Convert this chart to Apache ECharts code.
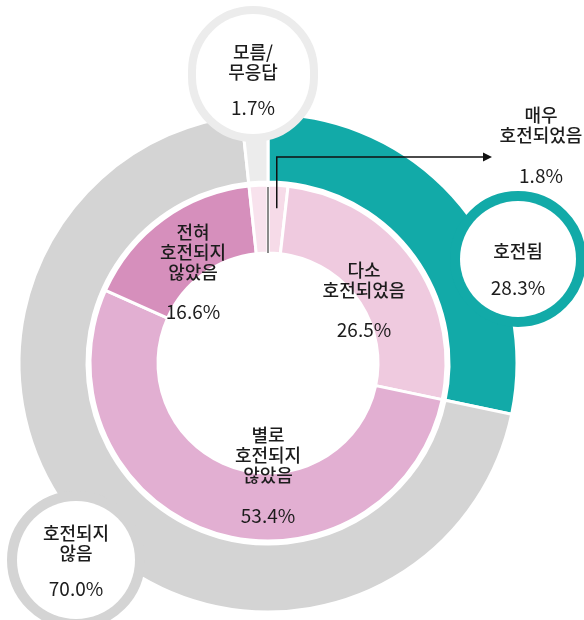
<!DOCTYPE html>
<html>
<head>
<meta charset="utf-8">
<script src="https://cdn.jsdelivr.net/npm/echarts@6/dist/echarts.min.js"></script>
<style>
html,body{margin:0;padding:0;background:#fff;}
#chart{width:584px;height:620px;}
</style>
</head>
<body>
<div id="chart"></div>
<script>
// ---- data ----
const innerNames = ['매우 호전되었음', '다소 호전되었음', '별로 호전되지 않았음', '전혀 호전되지 않았음', '모름/무응답'];
const innerValues = [1.8, 26.5, 53.4, 16.6, 1.7];
const innerLabelLines = [['매우', '호전되었음'], ['다소', '호전되었음'], ['별로', '호전되지', '않았음'], ['전혀', '호전되지', '않았음'], null];

const outerNames = ['호전됨', '호전되지 않음', '모름/무응답'];
const outerValues = [28.3, 70.0, 1.7];
const outerLabelLines = [['호전됨'], ['호전되지', '않음'], ['모름/', '무응답']];

// ---- styles / layout ----
const CX = 268, CY = 363;
const innerColors = ['#f6dbe8', '#efcadf', '#e2afd2', '#d68fbc', '#f8e2ed'];
const outerColors = ['#12aaa8', '#d4d4d4', '#ececec'];
const FONT = '"Noto Sans CJK KR", "Noto Sans", sans-serif';
const TXT = '#1c1c1c';
const NAME_LH = 20;
const NAME_FS = 18, PCT_FS = 19;

// inner label placement: [x, first line center y, gap to percent]
const innerLabelPos = [[541, 115, 41], [364, 270, 40], [268, 435, 41], [193, 232, 40], null];
// outer bubble placement: [cx, cy, diameter, first line y, gap, border color, border width]
const outerBubble = [
  [518, 259, 116, 251, 37, '#12aaa8', 10],
  [76, 560, 118, 533, 36, '#d4d4d4', 10],
  [253, 71, 114, 52, 36, '#ececec', 8]
];

function fmtPct(v) { return v.toFixed(1) + '%'; }
function richText(lines, v) {
  return lines.map(l => '{n|' + l + '}').join('\n') + '\n{p|' + fmtPct(v) + '}';
}
function richStyles(gap, w) {
  const n = { fontFamily: FONT, fontSize: NAME_FS, fontWeight: 500, color: TXT, lineHeight: NAME_LH, align: 'center' };
  const p = { fontFamily: FONT, fontSize: PCT_FS, fontWeight: 400, color: TXT, lineHeight: 2 * gap - NAME_LH, align: 'center' };
  if (w) { n.width = w; p.width = w; }
  return { n: n, p: p };
}

const innerData = innerNames.map((n, i) => {
  const item = { name: n, value: innerValues[i], itemStyle: { color: innerColors[i] } };
  if (innerLabelLines[i]) {
    item.label = {
      show: true,
      formatter: richText(innerLabelLines[i], innerValues[i]),
      rich: richStyles(innerLabelPos[i][2])
    };
  } else {
    item.label = { show: false };
  }
  return item;
});

const outerData = outerNames.map((n, i) => {
  const b = outerBubble[i];
  const lines = outerLabelLines[i];
  const D = b[2], gap = b[4];
  const contentH = lines.length * NAME_LH + (2 * gap - NAME_LH);
  const padT = (b[3] - (b[1] - D / 2)) - NAME_LH / 2;
  const padB = Math.max(0, D - padT - contentH);
  return {
    name: n, value: outerValues[i], itemStyle: { color: outerColors[i] },
    label: {
      show: true,
      formatter: richText(lines, outerValues[i]),
      backgroundColor: '#fff',
      borderColor: b[5],
      borderWidth: b[6],
      borderRadius: D / 2,
      width: D,
      padding: [padT, 0, padB, 0],
      rich: richStyles(gap, D)
    }
  };
});

const chart = echarts.init(document.getElementById('chart'), null, { renderer: 'canvas' });

// leader/separator geometry computed from the ring layout
const R_IN = [110, 178], R_OUT = [181, 249];
const midFrac = innerValues[0] / 2 / innerValues.reduce((a, b) => a + b, 0);
const midAng = midFrac * 2 * Math.PI;
const lx = CX + 155 * Math.sin(midAng), ly = CY - 155 * Math.cos(midAng);
const arrowY = 157, arrowX = 492;

chart.setOption({
  animation: false,
  backgroundColor: '#fff',
  series: [
    {
      type: 'pie', name: 'inner', center: [CX, CY], radius: R_IN,
      startAngle: 90, clockwise: true, avoidLabelOverlap: false, silent: true,
      itemStyle: { borderColor: '#fff', borderWidth: 3 },
      label: { position: 'inside' },
      labelLine: { show: false },
      emphasis: { disabled: true },
      labelLayout: function (p) {
        const pos = innerLabelPos[p.dataIndex];
        if (!pos) return {};
        return { x: pos[0], y: pos[1] - NAME_LH / 2, align: 'center', verticalAlign: 'top' };
      },
      data: innerData
    },
    {
      type: 'pie', name: 'outer', center: [CX, CY], radius: R_OUT,
      startAngle: 90, clockwise: true, avoidLabelOverlap: false, silent: true,
      itemStyle: { borderColor: '#fff', borderWidth: 3 },
      label: { position: 'inside' },
      labelLine: { show: false },
      emphasis: { disabled: true },
      labelLayout: function (p) {
        const b = outerBubble[p.dataIndex];
        return { x: b[0], y: b[1] - b[2] / 2, align: 'center', verticalAlign: 'top' };
      },
      data: outerData
    }
  ],
  graphic: [
    {
      type: 'line', z: 100, silent: true,
      shape: { x1: CX, y1: CY - R_IN[0], x2: CX, y2: CY - R_IN[1] + 2 },
      style: { stroke: '#8a8a8a', lineWidth: 2 }
    },
    {
      type: 'polyline', z: 100, silent: true,
      shape: { points: [[lx, ly], [lx, arrowY], [arrowX - 8, arrowY]] },
      style: { stroke: '#111', lineWidth: 1.5, fill: null }
    },
    {
      type: 'polygon', z: 100, silent: true,
      shape: { points: [[arrowX - 9, arrowY - 4.5], [arrowX, arrowY], [arrowX - 9, arrowY + 4.5]] },
      style: { fill: '#111' }
    }
  ]
});
</script>
</body>
</html>
